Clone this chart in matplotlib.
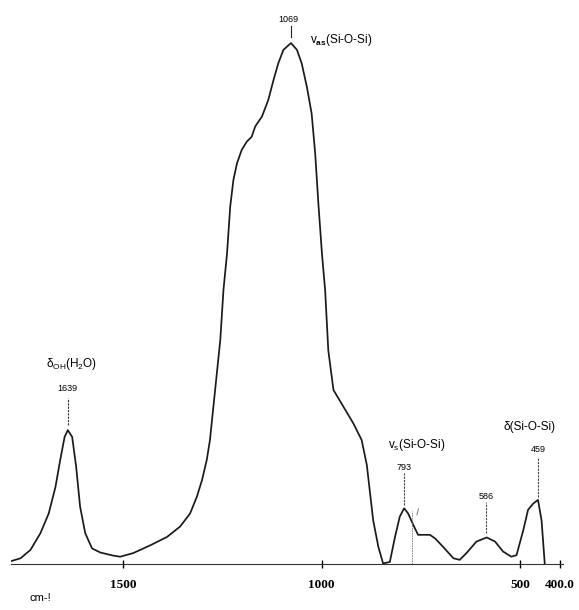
import numpy as np
import matplotlib
matplotlib.use('Agg')
import matplotlib.pyplot as plt
plt.rcParams['mathtext.fontset'] = 'custom'
plt.rcParams['mathtext.rm'] = 'Liberation Sans'
plt.rcParams['mathtext.it'] = 'Liberation Sans:italic'
plt.rcParams['mathtext.bf'] = 'Liberation Sans:bold'

# IR spectrum (wavenumber cm-1, relative absorbance %)
wavenumber = [1784, 1758, 1733, 1708, 1687, 1670, 1658, 1647, 1639, 1628, 1618,
              1608, 1595, 1578, 1557, 1524, 1507, 1474, 1431, 1389, 1356, 1331,
              1314, 1301, 1289, 1281, 1268, 1255, 1247, 1238, 1230, 1222, 1213,
              1201, 1188, 1176, 1167, 1150, 1134, 1121, 1109, 1096, 1077, 1062,
              1050, 1037, 1025, 1016, 1008, 999, 991, 983, 970, 945, 920, 899,
              886, 870, 857, 845, 828, 815, 803, 792, 782, 769, 757, 740, 727,
              714, 694, 668, 652, 635, 610, 584, 563, 543, 522, 509, 492, 480,
              467, 455, 446, 438]
absorb = [0.5, 1.1, 2.7, 5.9, 9.7, 14.8, 20.0, 24.4, 25.7, 24.4, 18.7,
          11.0, 5.9, 3.0, 2.2, 1.6, 1.4, 2.1, 3.6, 5.2, 7.2, 9.7,
          12.9, 16.1, 20.0, 23.8, 33.4, 43.0, 52.6, 59.6, 68.6, 73.7, 76.9,
          79.5, 81.1, 82.0, 84.0, 85.9, 89.1, 92.9, 96.1, 98.7, 100.0, 98.7,
          96.1, 91.6, 86.5, 78.8, 69.2, 59.6, 52.6, 41.0, 33.4, 30.2, 27.0, 23.8,
          19.0, 8.4, 3.3, 0.1, 0.4, 5.2, 9.1, 10.7, 9.7, 7.5, 5.6, 5.6, 5.6,
          4.9, 3.3, 1.1, 0.8, 2.1, 4.3, 5.1, 4.3, 2.4, 1.4, 1.7, 6.5, 10.4,
          11.6, 12.3, 8.4, 0.1]

tick_pos = [1500, 1000, 500, 400]
tick_lab = ['1500', '1000', '500', '400.0']

fig = plt.figure(figsize=(5.79, 6.10), dpi=100)
ax = fig.add_axes([11/579, 46/610, 552/579, 547/610])
ax.plot(wavenumber, absorb, color='#1a1a1a', lw=1.25, solid_joinstyle='round')
ax.set_xlim(1782, 392)
ax.set_ylim(0, 105)

for s in ['top', 'left', 'right']:
    ax.spines[s].set_visible(False)
ax.spines['bottom'].set_color('#333333')
ax.set_yticks([])
ax.set_xticks(tick_pos)
ax.set_xticklabels(tick_lab, family='Liberation Serif', fontweight='bold', fontsize=9.5)
ax.tick_params(axis='x', direction='inout', length=6, width=1, pad=8)

sans = 'Liberation Sans'
# 1069 peak
ax.text(1084, 104.5, '1069', ha='center', va='center', fontsize=6.5, family=sans)
ax.plot([1077, 1077], [101.2, 103.2], color='#222222', lw=0.8)
ax.text(1029, 100.6, r'v$_{\mathbf{as}}$(Si-O-Si)', ha='left', va='center', fontsize=8.5, family=sans)
# 1639 peak
ax.text(1630, 38.4, 'δ$_{\\mathrm{OH}}$(H$_2$O)', ha='center', va='center', fontsize=8.5, family=sans)
ax.text(1639, 33.6, '1639', ha='center', va='center', fontsize=6.5, family=sans)
ax.plot([1639, 1639], [26.6, 31.8], color='#333333', lw=0.8, ls=(0, (2, 1)))
# 793 peak
ax.text(760, 22.8, r'v$_{\mathrm{s}}$(Si-O-Si)', ha='center', va='center', fontsize=8.5, family=sans)
ax.text(793, 18.6, '793', ha='center', va='center', fontsize=6.5, family=sans)
ax.plot([793, 793], [11.4, 17.4], color='#444444', lw=0.8, ls=(0, (2, 1)))
ax.plot([772, 772], [0, 10.2], color='#777777', lw=0.6, ls=(0, (2, 1)))
ax.plot([760, 756], [9.4, 10.6], color='#666666', lw=0.6)
# 586 peak
ax.text(586, 12.9, '586', ha='center', va='center', fontsize=6.5, family=sans)
ax.plot([586, 586], [5.9, 11.9], color='#444444', lw=0.8, ls=(0, (2, 1)))
# 459 peak
ax.text(476, 26.3, 'δ(Si-O-Si)', ha='center', va='center', fontsize=8.5, family=sans)
ax.text(455, 21.9, '459', ha='center', va='center', fontsize=6.5, family=sans)
ax.plot([455, 455], [12.8, 20.3], color='#444444', lw=0.8, ls=(0, (2, 1)))

fig.text(30/579, 1 - 598/610, 'cm-!', ha='left', va='center', fontsize=8, family=sans)

fig.savefig('out.png', dpi=100, facecolor='white')
